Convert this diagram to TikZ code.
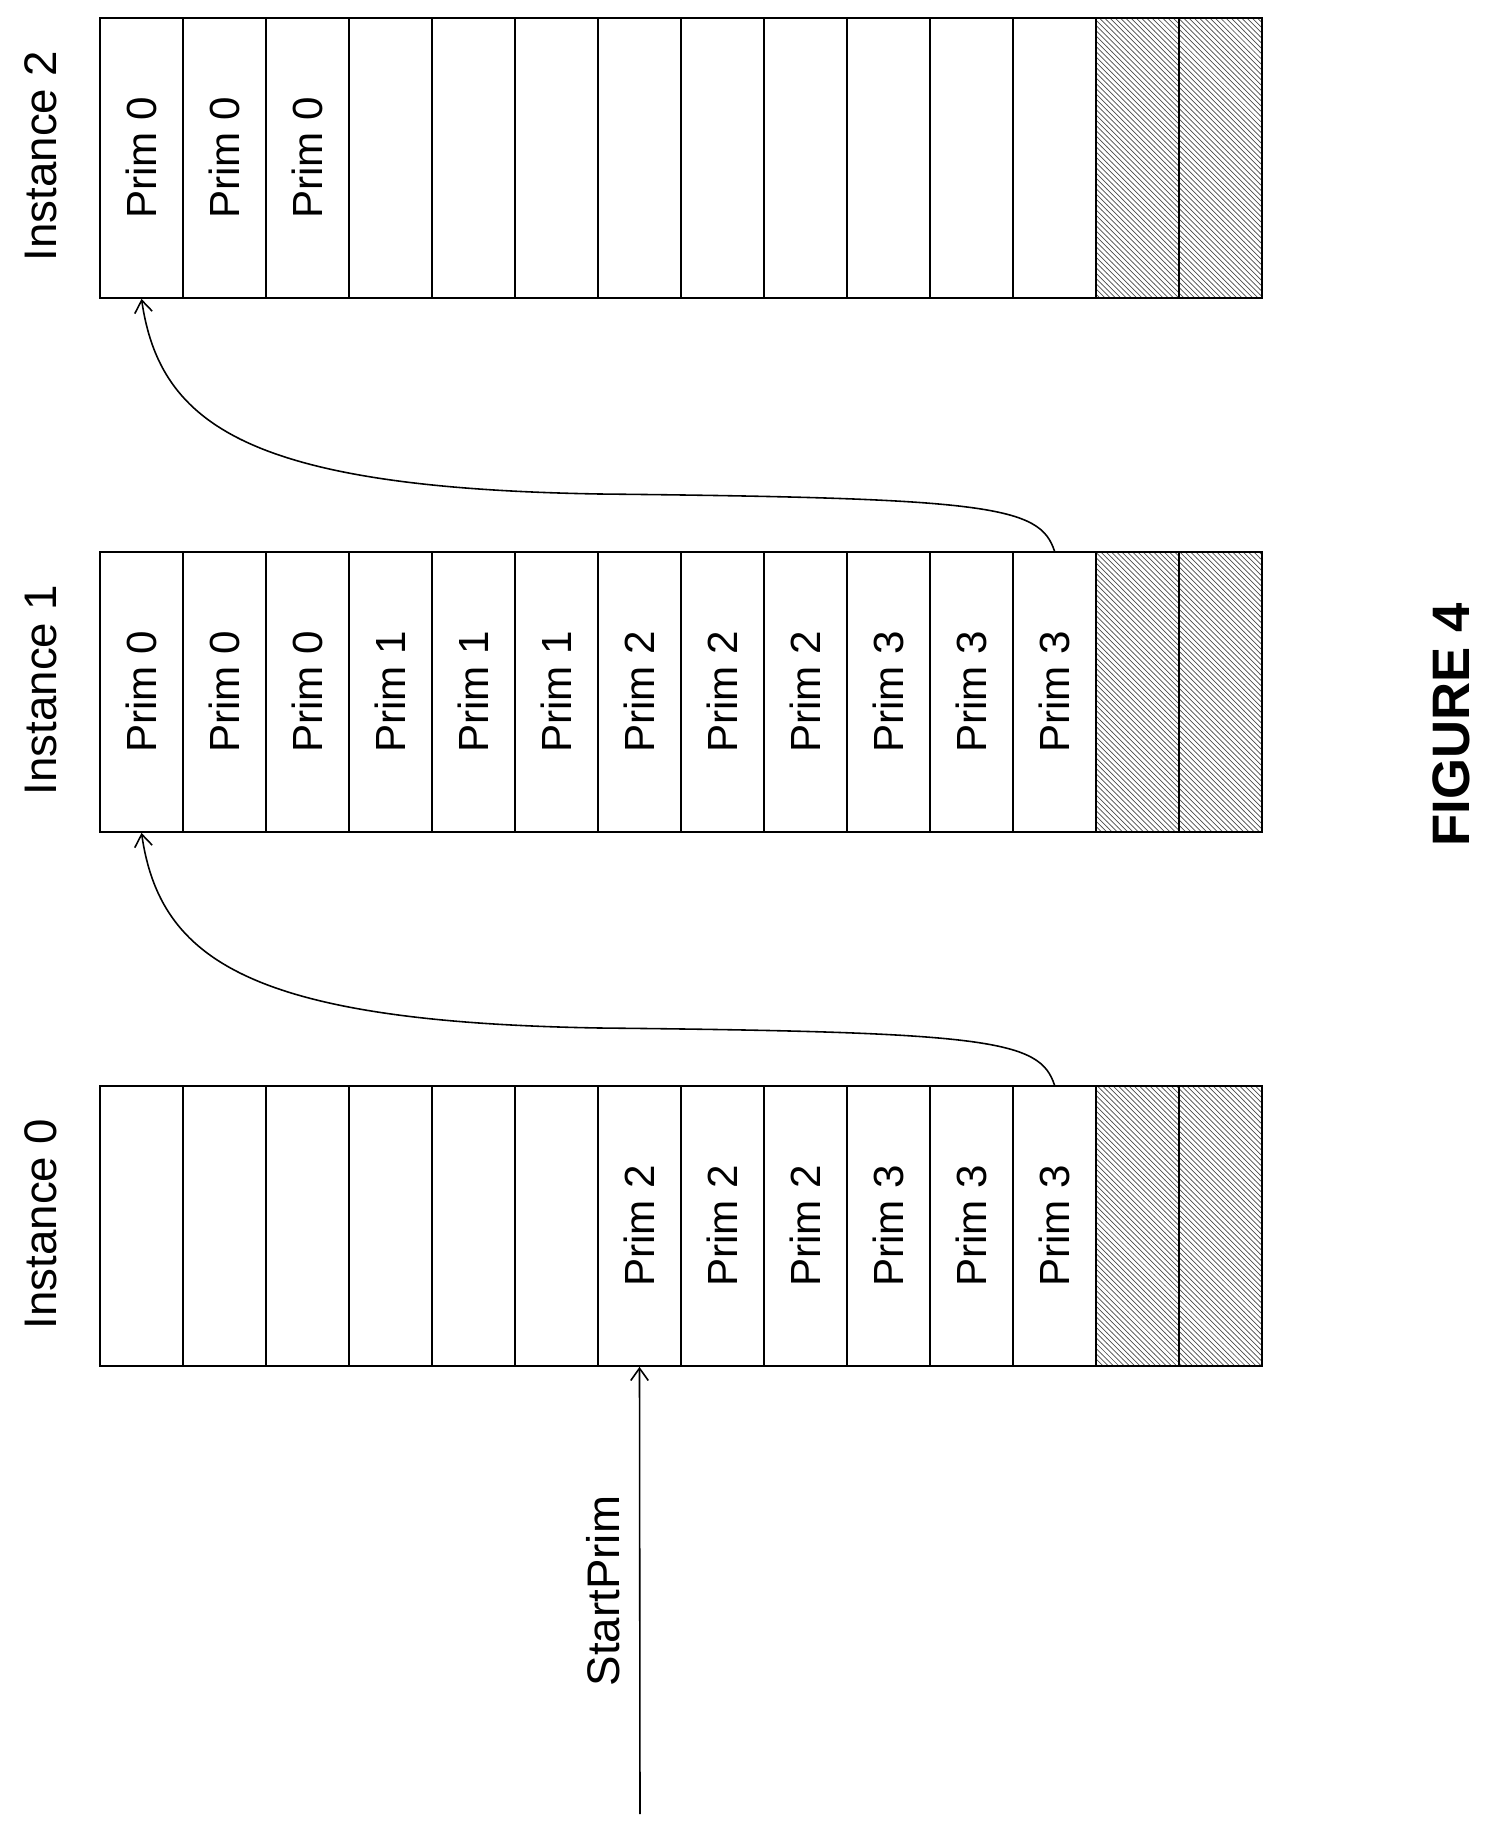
\documentclass[tikz,border=0pt]{standalone}
\usepackage{fontspec}
\setmainfont{Liberation Sans}
\usetikzlibrary{patterns,arrows.meta}

\tikzset{
  cell/.style={draw, line width=1pt, minimum width=1.66cm, minimum height=5.6cm,
    inner sep=0pt, font=\fontsize{24}{26}\selectfont},
  unused/.style={cell, pattern=north west lines, pattern color=black!70},
  link/.style={line width=0.9pt, -{Straight Barb[length=7pt,width=10pt]}},
  title/.style={rotate=90, font=\fontsize{26}{28}\selectfont}
}

\begin{document}
\begin{tikzpicture}[x=0.02cm, y=-0.02cm]
        \useasboundingbox (0,0) rectangle (1498,1823);
        % instance rows, top to bottom: 2, 1, 0
        \foreach \inst/\top/\labels in {
            2/18/{Prim 0,Prim 0,Prim 0,,,,,,,,,},
            1/552/{Prim 0,Prim 0,Prim 0,Prim 1,Prim 1,Prim 1,Prim 2,Prim 2,Prim 2,Prim 3,Prim 3,Prim 3},
            0/1086/{,,,,,,Prim 2,Prim 2,Prim 2,Prim 3,Prim 3,Prim 3}} {
            \foreach \txt [count=\k] in \labels
                \node[cell] (i\inst c\k) at ({100+83*(\k-0.5)},{\top+140}) {\rotatebox{90}{\txt}};
            \node[unused] (i\inst c13) at ({100+83*12.5},{\top+140}) {};
            \node[unused] (i\inst c14) at ({100+83*13.5},{\top+140}) {};
            \node[title] (t\inst) at (41,{\top+138}) {Instance \inst};
        }
        \coordinate (startfoot) at (640,1814);
        \draw[link] (startfoot) -- (i0c7.south);
        \node[title] (startlbl) at (603,1591) {StartPrim};
        % carry-over links
        \draw[link] (i0c12.north) .. controls (1040,1040) and (990,1032) .. (600,1028)
            .. controls (250,1022) and (160,960) .. (i1c1.south);
        \draw[link] (i1c12.north) .. controls (1040,506) and (990,498) .. (600,494)
            .. controls (250,488) and (160,426) .. (i2c1.south);
        \node[title, font=\fontsize{30}{34}\selectfont\bfseries] (fig) at (1451,725) {FIGURE 4};
\end{tikzpicture}
\end{document}
